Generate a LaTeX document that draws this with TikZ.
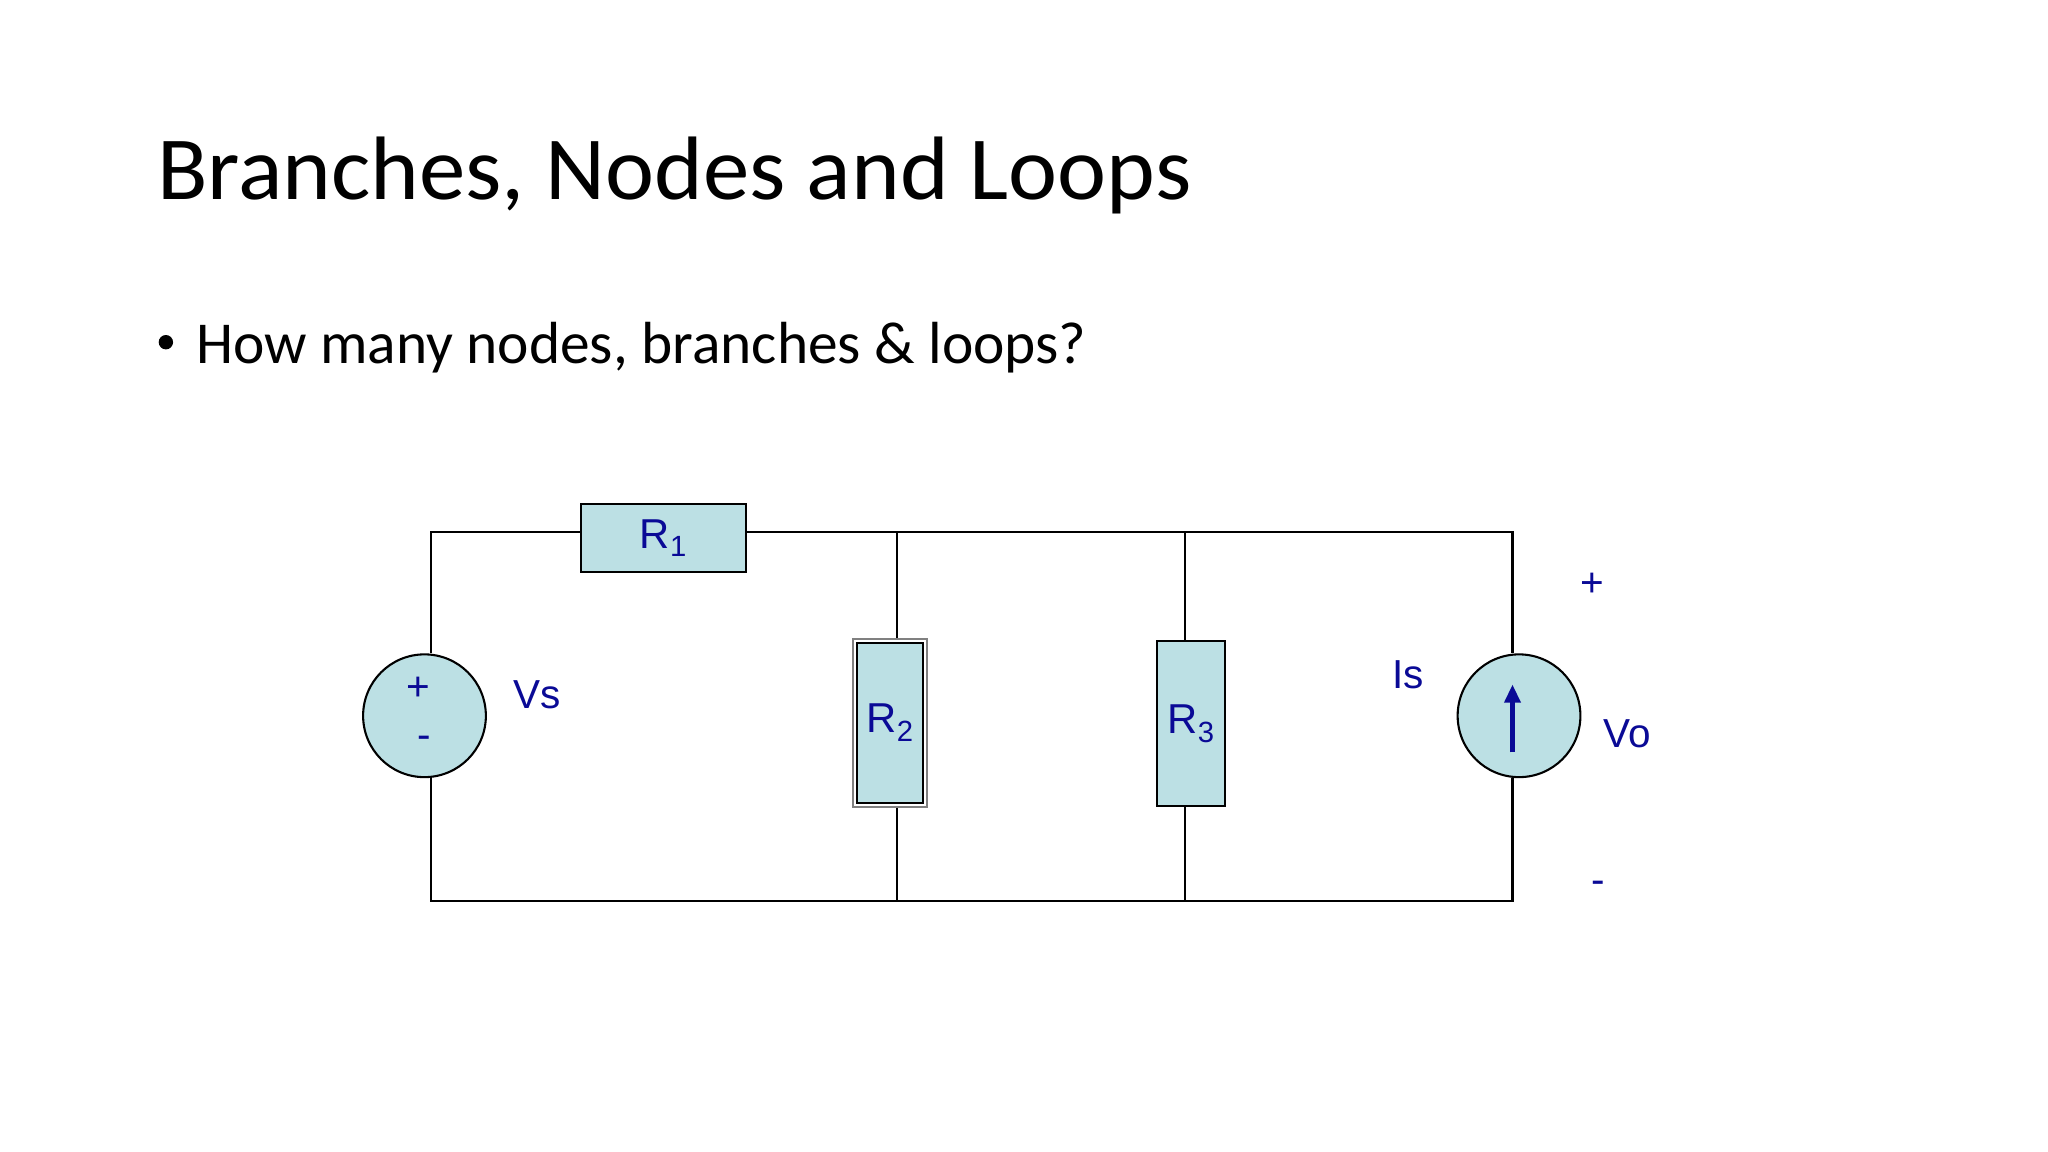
\documentclass[tikz,border=0pt]{standalone}
\usepackage{fontspec}
\setmainfont{Carlito}
\newfontfamily\arialf{Liberation Sans}
\usetikzlibrary{arrows.meta}
\definecolor{fillb}{RGB}{188,224,228}
\definecolor{lblue}{RGB}{10,10,150}
\begin{document}
\begin{tikzpicture}[x=1pt,y=-1pt,
  wire/.style={line width=1.6pt},
  res/.style={draw=black,line width=1.6pt,fill=fillb,inner sep=0pt,font=\arialf\fontsize{32}{32}\selectfont,text=lblue},
  src/.style={circle,draw=black,line width=1.6pt,fill=fillb,minimum size=94pt,inner sep=0pt},
  lbl/.style={font=\arialf\fontsize{31}{31}\selectfont,text=lblue,inner sep=0pt}]
\useasboundingbox (0,0) rectangle (1568,882);
\node[anchor=base west,inner sep=0pt,font=\fontsize{69}{69}\selectfont,xscale=1.03] (title) at (120,153) {Branches, Nodes and Loops};
\fill (127,262) circle (5.5pt);
\node[anchor=base west,inner sep=0pt,font=\fontsize{45.5}{45.5}\selectfont] (bul) at (150,278) {How many nodes, branches \& loops?};
% corners
\coordinate (tl) at (330,407); \coordinate (bl) at (330,690);
\coordinate (tr) at (1158,407); \coordinate (br) at (1158,690);
\coordinate (t2) at (687,407); \coordinate (b2) at (687,690);
\coordinate (t3) at (907,407); \coordinate (b3) at (907,690);
\node[res,minimum width=126pt,minimum height=52pt] (R1) at (508,412) {R\textsubscript{1}};
\node[draw=gray,line width=1.4pt,fill=white,minimum width=57pt,minimum height=129pt,inner sep=0pt] (R2o) at (681.5,553.5) {};
\node[res,minimum width=51pt,minimum height=123pt] (R2) at (681.5,553.5) {R\textsubscript{2}};
\node[res,minimum width=52pt,minimum height=126pt] (R3) at (912,554) {R\textsubscript{3}};
\node[src] (Vs) at (325,548) {};
\node[src] (Is) at (1163,548) {};
\node[lbl] (vp) at (320,527) {+};
\node[lbl] (vm) at (325,568) {-};
\draw[wire] (Vs.north -| tl) -- (tl) -- (R1.west |- tl);
\draw[wire] (R1.east |- tr) -- (tr) -- (Is.north -| tr);
\draw[wire] (Vs.south -| bl) -- (bl) -- (br) -- (Is.south -| br);
\draw[wire] (t2) -- (R2o.north -| t2);
\draw[wire] (R2o.south -| b2) -- (b2);
\draw[wire] (t3) -- (R3.north -| t3);
\draw[wire] (R3.south -| b3) -- (b3);
\coordinate (a1) at (1158,576); \coordinate (a2) at (1158,524);
\draw[line width=4pt,lblue,-{Triangle[length=14pt,width=12pt]}] (a1) -- (a2);
\node[lbl] (lVs) at (411,532) {Vs};
\node[lbl] (lIs) at (1078,517) {Is};
\node[lbl] (lp) at (1219,448) {+};
\node[lbl] (lVo) at (1246,562) {Vo};
\node[lbl] (lm) at (1224,679) {-};
\end{tikzpicture}
\end{document}
